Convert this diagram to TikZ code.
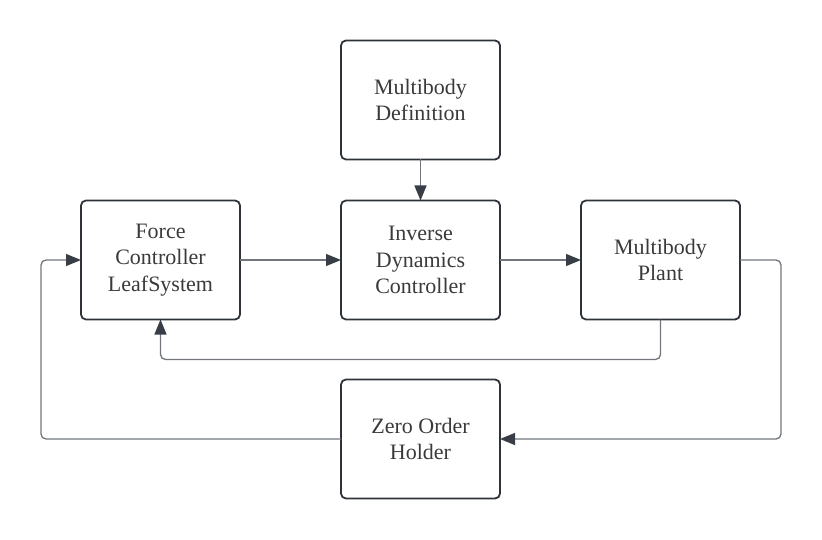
\documentclass[tikz,border=0pt]{standalone}
\usepackage{fontspec}
\setmainfont{Liberation Serif}
\usepackage{tikz}
\usetikzlibrary{positioning,arrows.meta}

\definecolor{boxline}{HTML}{2E3239}
\definecolor{textgray}{HTML}{3A3A3A}
\definecolor{linkline}{HTML}{72767C}
\definecolor{tipgray}{HTML}{393D45}

\begin{document}
\begin{tikzpicture}[x=1pt, y=1pt,
  box/.style = {draw = boxline, line width = 1.8pt, shape = rectangle, rounded corners = 5pt,
    minimum width = 159pt, minimum height = 119pt, inner sep = 0pt, outer sep = 0pt,
    align = center, text = textgray, font = \fontsize{22}{26.5}\selectfont},
  link/.style = {draw = linkline, line width = 1.3pt, rounded corners = 5pt,
    -{Triangle[length = 15pt, width = 12pt, color = tipgray]}}]
\useasboundingbox (0,0) rectangle (822,-540);
\node[box] (force) at (160.5,-260) {Force\\Controller\\LeafSystem};
\node[box, right = 101pt of force] (inverse) {Inverse\\Dynamics\\Controller};
\node[box, right = 81pt of inverse] (plant) {Multibody\\Plant};
\node[box, above = 41pt of inverse] (definition) {Multibody\\Definition};
\node[box, below = 60pt of inverse] (holder) {Zero Order\\Holder};
% forward path
\draw[link] (force) -- (inverse);
\draw[link] (inverse) -- (plant);
\draw[link] (definition) -- (inverse);
% feedback loops
\draw[link] (plant.south) -- ++(0,-40) -| (force.south);
\draw[link] (plant.east) -- ++(41,0) |- (holder.east);
\draw[link] (holder.west) -- ++(-300,0) |- (force.west);
\end{tikzpicture}
\end{document}
